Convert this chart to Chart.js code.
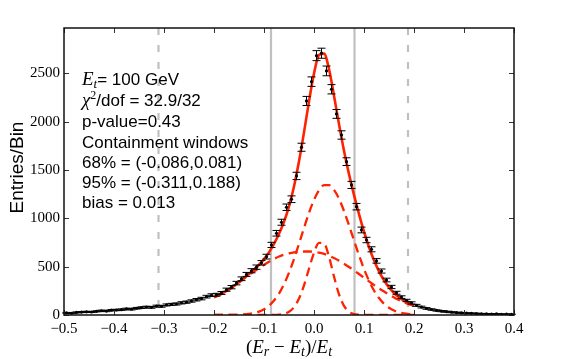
<!DOCTYPE html>
<html>
<head>
<meta charset="utf-8">
<script src="https://cdn.jsdelivr.net/npm/chart.js@4.4.1/dist/chart.umd.min.js"></script>
<style>
  html, body { margin: 0; padding: 0; background: #fff; }
  canvas { display: block; }
</style>
</head>
<body>
<canvas id="chart" width="581" height="359"></canvas>
<script>
// histogram: 90 bins of width 0.01 from -0.5 to 0.4
const binLo = -0.5;
const binWidth = 0.01;
const counts = [
  22, 18, 27, 30, 33, 31, 38, 44, 41, 50,
  52, 55, 63, 60, 70, 76, 82, 79, 92, 90,
  104, 110, 114, 126, 133, 145, 158, 170, 190, 205,
  210, 228, 262, 288, 330, 375, 420, 458, 495, 540,
  604, 725, 846, 960, 1115, 1198, 1439, 1736, 2215, 2415,
  2684, 2709, 2526, 2336, 2081, 1863, 1587, 1346, 1121, 880,
  776, 680, 560, 455, 362, 290, 230, 185, 150, 125,
  100, 82, 68, 57, 47, 40, 34, 29, 25, 22,
  19, 17, 15, 13, 12, 10, 11, 8, 9, 7
];

// fit curves, sampled every 0.01 from -0.2 to 0.2
const fitLo = -0.2;
const fitStep = 0.01;
const fitTotal = [
  185, 207, 234, 265, 300, 340, 382, 425, 470, 520,
  578, 648, 735, 840, 965, 1125, 1330, 1590, 1890, 2210,
  2500, 2690, 2705, 2545, 2270, 1975, 1700, 1458, 1243, 1044,
  863, 703, 566, 452, 360, 286, 228, 184, 148, 120, 97
];
const fitBroad = [
  185, 207, 234, 264, 299, 337, 376, 414, 450, 485,
  519, 550, 580, 605, 625, 638, 648, 654, 657, 657,
  653, 645, 632, 613, 590, 562, 531, 497, 461, 424,
  386, 348, 312, 276, 243, 211, 182, 156, 132, 111, 92
];
const fitCore = [
  0, 0, 0, 1, 1, 3, 6, 11, 20, 35,
  59, 96, 149, 222, 318, 438, 580, 737, 900, 1057,
  1191, 1291, 1343, 1344, 1295, 1203, 1076, 928, 772, 618,
  477, 355, 254, 176, 117, 75, 46, 28, 16, 9, 5
];
const fitNarrow = [
  0, 0, 0, 0, 0, 0, 0, 0, 0, 0,
  0, 0, 1, 4, 12, 33, 81, 170, 307, 479,
  644, 746, 741, 603, 398, 214, 94, 33, 10, 2,
  0, 0, 0, 0, 0, 0, 0, 0, 0, 0, 0
];

const window68 = [-0.086, 0.081];
const window95 = [-0.311, 0.188];

const xTicks = [-0.5, -0.4, -0.3, -0.2, -0.1, 0.0, 0.1, 0.2, 0.3, 0.4];
const yTicks = [0, 500, 1000, 1500, 2000, 2500];
const yMax = 2970;

const RED = "#ff2200";
const SERIF = '"Liberation Serif", "DejaVu Serif", serif';
const SANS = '"Liberation Sans", Arial, sans-serif';

const points = counts.map((c, i) => ({ x: binLo + (i + 0.5) * binWidth, y: c }));
const curve = vals => vals.map((v, i) => ({ x: +(fitLo + i * fitStep).toFixed(3), y: v }));

function fmtX(v){
  if (Math.abs(v) < 1e-9) return "0.0";
  return (v < 0 ? "\u2212" : "") + Math.abs(v).toFixed(1);
}

// text pieces: italic serif for math, small serif for sub/superscripts, sans for the rest
const info = [
  { y: 85, runs: [{ t: "E", f: "italic 19px " + SERIF }, { t: "t", f: "italic 13px " + SERIF, dy: 3 }, { t: "= 100 GeV", f: "17px " + SANS }] },
  { y: 105.5, runs: [{ t: "\u03c7", f: "italic 19px " + SERIF }, { t: "2", f: "12px " + SERIF, dy: -7 }, { t: "/dof = 32.9/32", f: "17px " + SANS }] },
  { y: 127, runs: [{ t: "p-value=0.43", f: "17px " + SANS }] },
  { y: 148, runs: [{ t: "Containment windows", f: "17px " + SANS }] },
  { y: 168, runs: [{ t: "68% = (-0.086,0.081)", f: "17px " + SANS }] },
  { y: 188, runs: [{ t: "95% = (-0.311,0.188)", f: "17px " + SANS }] },
  { y: 208, runs: [{ t: "bias = 0.013", f: "17px " + SANS }] }
];

const xTitle = [
  { t: "(", f: "19px " + SERIF },
  { t: "E", f: "italic 19px " + SERIF },
  { t: "r", f: "italic 14px " + SERIF, dy: 3 },
  { t: " \u2212 ", f: "19px " + SERIF },
  { t: "E", f: "italic 19px " + SERIF },
  { t: "t", f: "italic 14px " + SERIF, dy: 3 },
  { t: ")/", f: "19px " + SERIF },
  { t: "E", f: "italic 19px " + SERIF },
  { t: "t", f: "italic 14px " + SERIF, dy: 3 }
];

function drawRuns(ctx, x, y, runs, center){
  let w = 0;
  runs.forEach(r => { ctx.font = r.f; w += ctx.measureText(r.t).width; });
  let cx = center ? x - w / 2 : x;
  runs.forEach(r => {
    ctx.font = r.f;
    ctx.fillText(r.t, cx, y + (r.dy || 0));
    cx += ctx.measureText(r.t).width;
  });
}

const overlay = {
  id: "overlay",
  beforeDatasetsDraw(chart){
    const { ctx, chartArea: a, scales: { x } } = chart;
    ctx.save();
    ctx.strokeStyle = "#c0c0c0";
    ctx.lineWidth = 2.2;
    window68.forEach(v => {
      const px = x.getPixelForValue(v);
      ctx.beginPath(); ctx.moveTo(px, a.top); ctx.lineTo(px, a.bottom); ctx.stroke();
    });
    ctx.setLineDash([7, 10]);
    window95.forEach(v => {
      const px = x.getPixelForValue(v);
      ctx.beginPath(); ctx.moveTo(px, a.top); ctx.lineTo(px, a.bottom); ctx.stroke();
    });
    ctx.restore();
  },
  afterDatasetsDraw(chart){
    const { ctx, chartArea: a, scales: { x, y } } = chart;
    ctx.save();

    // poisson error bars on the histogram points
    ctx.strokeStyle = "#000";
    ctx.lineWidth = 1;
    points.forEach(p => {
      const e = Math.sqrt(p.y);
      const px = x.getPixelForValue(p.x);
      const y1 = y.getPixelForValue(p.y - e);
      const y2 = y.getPixelForValue(p.y + e);
      ctx.beginPath();
      ctx.moveTo(px, y1); ctx.lineTo(px, y2);
      ctx.moveTo(px - 4, y1); ctx.lineTo(px + 4, y1);
      ctx.moveTo(px - 4, y2); ctx.lineTo(px + 4, y2);
      ctx.stroke();
    });

    // frame and inward ticks
    ctx.strokeStyle = "#333";
    ctx.lineWidth = 1;
    ctx.beginPath();
    xTicks.forEach(v => {
      const px = Math.round(x.getPixelForValue(v)) + 0.5;
      ctx.moveTo(px, a.bottom); ctx.lineTo(px, a.bottom - 5);
      ctx.moveTo(px, a.top); ctx.lineTo(px, a.top + 5);
    });
    yTicks.forEach(v => {
      const py = Math.round(y.getPixelForValue(v)) + 0.5;
      ctx.moveTo(a.left, py); ctx.lineTo(a.left + 5, py);
      ctx.moveTo(a.right, py); ctx.lineTo(a.right - 5, py);
    });
    ctx.stroke();
    ctx.strokeStyle = "#111";
    ctx.lineWidth = 1.5;
    ctx.strokeRect(a.left, a.top, a.right - a.left, a.bottom - a.top);

    // info text
    ctx.fillStyle = "#000";
    ctx.textBaseline = "alphabetic";
    ctx.textAlign = "left";
    info.forEach(line => drawRuns(ctx, 82, line.y, line.runs, false));

    // axis titles
    drawRuns(ctx, (a.left + a.right) / 2, 353, xTitle, true);
    ctx.translate(22.5, (a.top + a.bottom) / 2 - 4);
    ctx.rotate(-Math.PI / 2);
    ctx.font = "19px " + SANS;
    ctx.textAlign = "center";
    ctx.fillText("Entries/Bin", 0, 0);
    ctx.restore();
  }
};

new Chart(document.getElementById("chart"), {
  type: "line",
  data: {
    datasets: [
      { data: points, showLine: false, pointRadius: 1.6, pointBackgroundColor: "#000", pointBorderWidth: 0, order: 0 },
      { data: curve(fitTotal), borderColor: RED, borderWidth: 2.6, pointRadius: 0, cubicInterpolationMode: "monotone", order: 1 },
      { data: curve(fitBroad), borderColor: RED, borderWidth: 2.3, borderDash: [9, 5.5], pointRadius: 0, cubicInterpolationMode: "monotone", order: 2 },
      { data: curve(fitCore), borderColor: RED, borderWidth: 2.3, borderDash: [9, 5.5], pointRadius: 0, cubicInterpolationMode: "monotone", order: 3 },
      { data: curve(fitNarrow), borderColor: RED, borderWidth: 2.3, borderDash: [9, 5.5], pointRadius: 0, cubicInterpolationMode: "monotone", order: 4 }
    ]
  },
  options: {
    responsive: false,
    animation: false,
    devicePixelRatio: 1,
    layout: { padding: { left: 0, top: 28, right: 67, bottom: 0 } },
    plugins: { legend: { display: false }, tooltip: { enabled: false } },
    scales: {
      x: {
        type: "linear", min: -0.5, max: 0.4,
        afterBuildTicks: s => { s.ticks = xTicks.map(v => ({ value: v })); },
        afterFit: s => { s.height = 44; },
        grid: { display: false, drawTicks: false },
        border: { display: false },
        ticks: { padding: 5, color: "#000", maxRotation: 0, autoSkip: false, font: { family: SERIF, size: 15 }, callback: v => fmtX(v) }
      },
      y: {
        type: "linear", min: 0, max: yMax,
        afterBuildTicks: s => { s.ticks = yTicks.map(v => ({ value: v })); },
        afterFit: s => { s.width = 64; },
        grid: { display: false, drawTicks: false },
        border: { display: false },
        ticks: { padding: 4, color: "#000", autoSkip: false, font: { family: SERIF, size: 15 }, callback: v => String(v) }
      }
    }
  },
  plugins: [overlay]
});
</script>
</body>
</html>
